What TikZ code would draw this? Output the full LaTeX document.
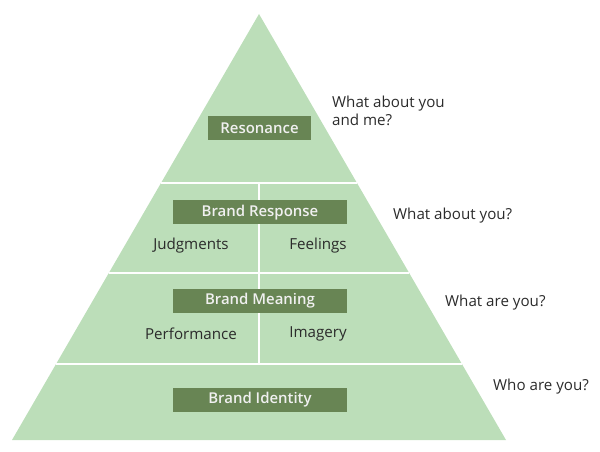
\documentclass[tikz,border=0pt]{standalone}
\usepackage{fontspec}
\setmainfont{Open Sans}
\IfFontExistsTF{Open Sans SemiBold}{\newfontfamily\boxfont{Open Sans SemiBold}}{%
  \IfFontExistsTF{Open Sans Semibold}{\newfontfamily\boxfont{Open Sans Semibold}}{\newfontfamily\boxfont{Open Sans}}}
\definecolor{pyr}{HTML}{BCDEB9}
\definecolor{boxg}{HTML}{688554}
\definecolor{txt}{HTML}{2B2B2B}
\begin{document}
\begin{tikzpicture}[x=1bp,y=-1bp,
  lvlbox/.style={fill=boxg,text=white!94!black,inner sep=0pt,minimum height=24bp,font=\boxfont\fontsize{15}{17}\selectfont},
  inlbl/.style={text=txt,inner sep=0pt,font=\fontsize{15.2}{17}\selectfont},
  qlbl/.style={text=txt,inner sep=0pt,anchor=west,align=left,font=\fontsize{15.2}{18}\selectfont},
  sep/.style={draw=white,line width=2.5bp}]
\useasboundingbox (0,0) rectangle (600,452);
\fill[pyr] (259,14) -- (506,440) -- (12,440) -- cycle;
\draw[sep] (161,183) -- (357,183);
\draw[sep] (108.8,273) -- (409.2,273);
\draw[sep] (56.1,364) -- (461.9,364);
\draw[sep] (259,183) -- (259,364);
\node[lvlbox,minimum width=103bp] (res) at (259.5,128) {Resonance};
\node[lvlbox,minimum width=174bp] (resp) at (260,212.5) {Brand Response};
\node[lvlbox,minimum width=174bp] (mean) at (260,300.5) {Brand Meaning};
\node[lvlbox,minimum width=174bp] (ident) at (260,400) {Brand Identity};
\node[inlbl] (judg) at (191,246) {Judgments};
\node[inlbl] (feel) at (318,246) {Feelings};
\node[inlbl] (perf) at (191,334) {Performance};
\node[inlbl] (imag) at (318,334) {Imagery};
\node[qlbl] (q1) at (332,111) {What about you\\and me?};
\node[qlbl] (q2) at (393,216) {What about you?};
\node[qlbl] (q3) at (445,303) {What are you?};
\node[qlbl] (q4) at (493,387) {Who are you?};
\end{tikzpicture}
\end{document}
